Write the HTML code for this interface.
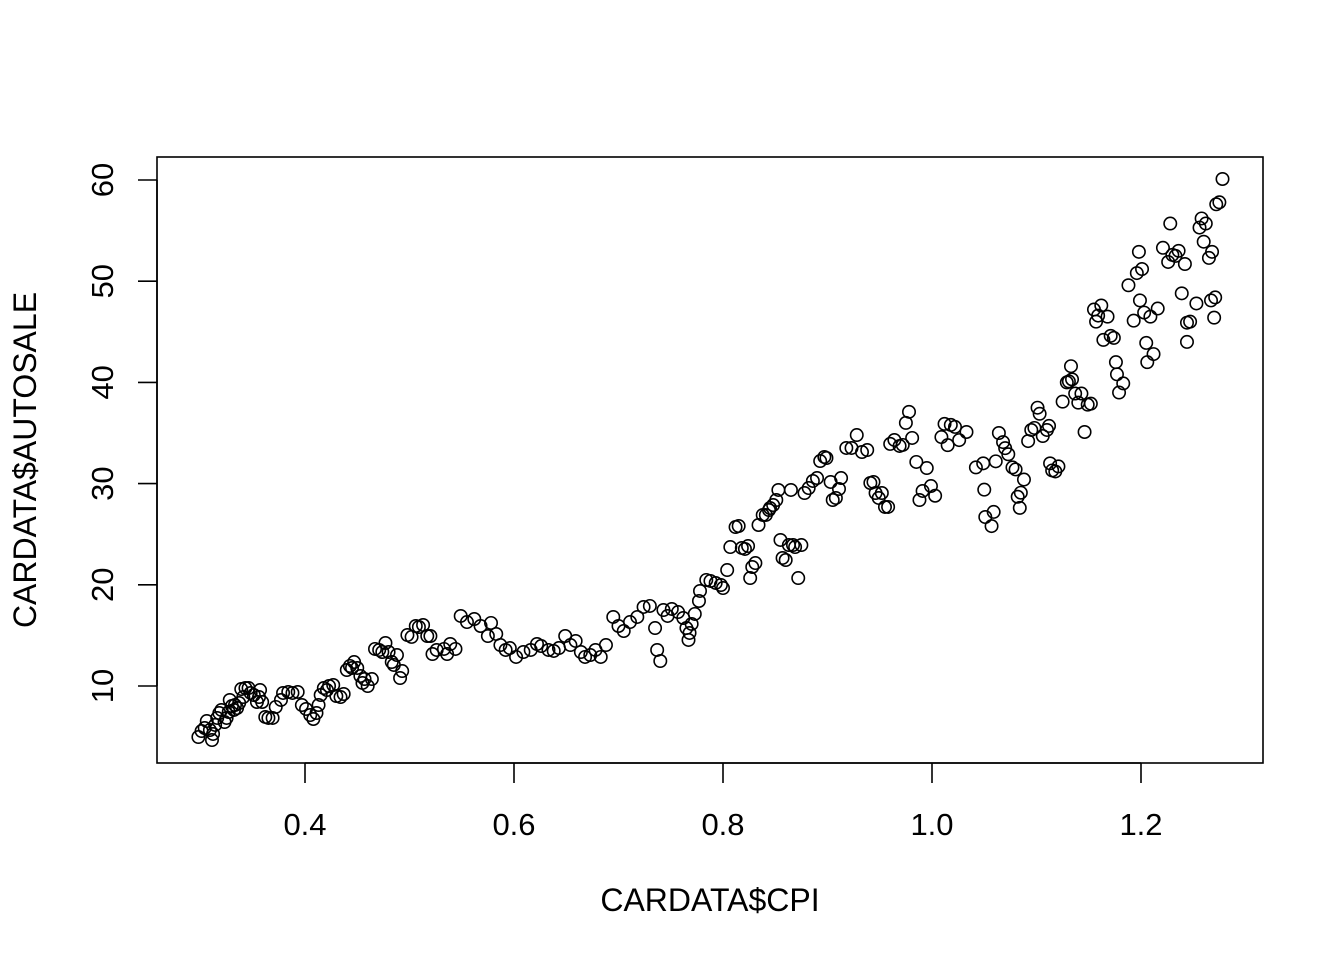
<!DOCTYPE html>
<html><head><meta charset="utf-8"><style>
body{margin:0;background:#fff;}
svg{display:block;font-family:"Liberation Sans",Arial,sans-serif;}
</style></head><body>
<svg id="chart" width="1344" height="960" xmlns="http://www.w3.org/2000/svg">
<rect x="0" y="0" width="1344" height="960" fill="#fff"/>
<rect x="157" y="157" width="1106" height="606" fill="none" stroke="#000" stroke-width="1.6"/>
<g id="xaxis"></g>
<g id="yaxis"></g>
<g id="points"></g>
<text x="710" y="911" text-anchor="middle" font-size="32">CARDATA$CPI</text>
<text transform="translate(36,460) rotate(-90)" text-anchor="middle" font-size="32">CARDATA$AUTOSALE</text>
</svg>
<script>
const xTicks=[0.4,0.6,0.8,1.0,1.2];
const xTickLabels=["0.4","0.6","0.8","1.0","1.2"];
const yTicks=[10,20,30,40,50,60];
const yTickLabels=["10","20","30","40","50","60"];
const cpi=[.298,.301,.304,.306,.309,.311,.312,.314,.316,.318,.320,.323,.325,.327,.328,.330,.332,.333,.335,.337,.339,.341,.343,.346,.348,.351,.354,.356,.357,.359,.362,.365,.369,.372,.377,.379,.384,.388,.393,.397,.401,.405,.408,.411,.413,.415,.418,.421,.423,.427,.430,.434,.437,.440,.443,.445,.447,.450,.453,.455,.457,.460,.464,.467,.471,.474,.477,.480,.483,.485,.488,.491,.493,.498,.502,.506,.509,.513,.517,.520,.522,.526,.533,.536,.539,.544,.549,.555,.562,.568,.575,.578,.583,.587,.592,.596,.602,.609,.616,.622,.626,.633,.638,.643,.649,.654,.659,.664,.668,.673,.678,.683,.688,.695,.700,.705,.711,.718,.724,.730,.735,.737,.740,.743,.747,.751,.757,.762,.765,.767,.768,.770,.773,.777,.778,.784,.788,.793,.798,.800,.804,.807,.812,.815,.818,.821,.824,.826,.828,.831,.834,.838,.841,.844,.845,.848,.851,.853,.855,.857,.860,.863,.865,.867,.869,.872,.875,.878,.882,.886,.890,.893,.897,.899,.903,.905,.908,.911,.913,.918,.923,.928,.933,.938,.941,.944,.946,.949,.952,.955,.958,.960,.964,.969,.972,.975,.978,.981,.985,.988,.991,.995,.999,1.003,1.009,1.012,1.015,1.018,1.022,1.026,1.033,1.042,1.049,1.050,1.051,1.057,1.059,1.061,1.064,1.068,1.070,1.073,1.077,1.080,1.082,1.084,1.085,1.088,1.092,1.095,1.098,1.101,1.103,1.106,1.110,1.112,1.113,1.115,1.118,1.121,1.125,1.129,1.131,1.133,1.134,1.137,1.140,1.143,1.146,1.149,1.152,1.155,1.157,1.159,1.162,1.164,1.168,1.171,1.174,1.176,1.177,1.179,1.183,1.188,1.193,1.196,1.198,1.199,1.201,1.203,1.205,1.206,1.209,1.212,1.216,1.221,1.226,1.228,1.230,1.233,1.236,1.239,1.242,1.244,1.244,1.247,1.253,1.256,1.258,1.260,1.262,1.265,1.267,1.268,1.270,1.271,1.272,1.275,1.278];
const autosale=[4.96,5.55,5.85,6.54,5.65,4.66,5.26,6.15,6.84,7.33,7.63,6.44,6.84,7.43,8.62,8.02,7.63,8.12,7.82,8.32,9.70,8.91,9.80,9.80,9.31,9.11,8.42,8.91,9.60,8.42,6.94,6.84,6.84,7.93,8.62,9.31,9.41,9.31,9.41,8.12,7.73,7.13,6.74,7.33,8.12,9.11,9.80,9.60,10.0,10.1,9.01,8.91,9.21,11.58,11.98,11.78,12.37,11.78,10.99,10.30,10.69,10.0,10.69,13.66,13.56,13.36,14.25,13.36,12.37,12.08,13.06,10.79,11.48,15.04,14.85,15.93,15.83,16.03,14.94,14.94,13.16,13.56,13.66,13.16,14.15,13.66,16.92,16.32,16.62,15.93,14.94,16.23,15.14,14.05,13.56,13.75,12.87,13.36,13.56,14.15,13.95,13.56,13.46,13.75,14.94,14.05,14.45,13.36,12.87,13.06,13.56,12.87,14.05,16.82,15.93,15.43,16.32,16.82,17.81,17.91,15.73,13.56,12.47,17.51,16.92,17.61,17.31,16.72,15.73,14.55,15.24,16.13,17.12,18.40,19.39,20.48,20.38,20.18,19.98,19.68,21.46,23.73,25.71,25.81,23.64,23.54,23.83,20.67,21.76,22.15,25.91,26.90,26.90,27.39,27.59,27.88,28.38,29.37,24.43,22.65,22.45,23.93,29.37,23.93,23.73,20.67,23.93,29.07,29.56,30.26,30.55,32.23,32.63,32.53,30.16,28.38,28.58,29.47,30.55,33.52,33.52,34.80,33.12,33.32,30.06,30.16,29.07,28.58,29.07,27.69,27.69,33.92,34.31,33.72,33.82,36.0,37.09,34.51,32.14,28.38,29.27,31.54,29.76,28.8,34.6,35.9,33.8,35.8,35.6,34.3,35.1,31.6,32.0,29.4,26.7,25.8,27.2,32.2,35.0,34.1,33.5,32.9,31.6,31.4,28.7,27.6,29.1,30.4,34.2,35.3,35.5,37.5,36.9,34.7,35.3,35.7,32.0,31.3,31.2,31.7,38.1,40.0,40.1,41.6,40.3,38.9,38.0,38.9,35.1,37.8,37.9,47.2,46.0,46.6,47.6,44.2,46.5,44.6,44.4,42.0,40.8,39.0,39.9,49.6,46.1,50.8,52.9,48.1,51.2,46.9,43.9,42.0,46.5,42.8,47.3,53.3,51.9,55.7,52.6,52.5,53.0,48.8,51.7,45.9,44.0,46.0,47.8,55.3,56.2,53.9,55.7,52.3,48.1,52.9,46.4,48.4,57.6,57.8,60.1];
const NS="http://www.w3.org/2000/svg";
function xs(v){return 305+(v-0.4)*1045;}
function ys(v){return 686-(v-10)*10.12;}
function mk(tag,attrs,parent){const e=document.createElementNS(NS,tag);for(const k in attrs)e.setAttribute(k,attrs[k]);parent.appendChild(e);return e;}
const xa=document.getElementById('xaxis'),ya=document.getElementById('yaxis'),pg=document.getElementById('points');
mk('line',{x1:xs(xTicks[0]),x2:xs(xTicks[xTicks.length-1]),y1:763,y2:763,stroke:'#000','stroke-width':1.6},xa);
xTicks.forEach((t,i)=>{
  const l=mk('line',{x1:xs(t),x2:xs(t),y1:763,y2:783,stroke:'#000','stroke-width':1.6},xa);
  
  
  const tx=mk('text',{x:xs(t),y:835,'text-anchor':'middle','font-size':31},xa);
  tx.textContent=xTickLabels[i];
  
  
});
mk('line',{x1:157,x2:157,y1:ys(yTicks[0]),y2:ys(yTicks[yTicks.length-1]),stroke:'#000','stroke-width':1.6},ya);
yTicks.forEach((t,i)=>{
  const l=mk('line',{x1:138,x2:157,y1:ys(t),y2:ys(t),stroke:'#000','stroke-width':1.6},ya);
  
  
  const tx=mk('text',{transform:'translate(113,'+ys(t)+') rotate(-90)','text-anchor':'middle','font-size':31},ya);
  tx.textContent=yTickLabels[i];
  
  
});
for(let i=0;i<cpi.length;i++){
  const c=mk('circle',{cx:xs(cpi[i]),cy:ys(autosale[i]),r:6.2,fill:'none',stroke:'#000','stroke-width':1.6},pg);
  
  
}
</script>
</body></html>
